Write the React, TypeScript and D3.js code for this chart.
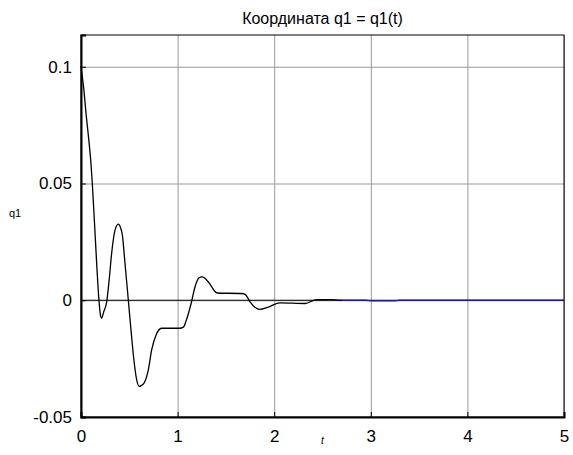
import * as d3 from "d3";
import { useEffect, useRef } from "react";

// black curve q1(t)
const time = [0, 0.03, 0.052, 0.08, 0.103, 0.117, 0.14, 0.162, 0.186, 0.2, 0.214, 0.235, 0.266, 0.29, 0.317, 0.352, 0.386, 0.41, 0.428, 0.455, 0.49, 0.524, 0.548, 0.576, 0.603, 0.625, 0.651, 0.696, 0.731, 0.776, 0.834, 0.87, 1.02, 1.06, 1.09, 1.14, 1.18, 1.22, 1.25, 1.28, 1.317, 1.41, 1.66, 1.7, 1.75, 1.8, 1.85, 1.94, 2.06, 2.32, 2.44, 2.59, 2.7];
const q1 = [0.1, 0.09, 0.08, 0.069, 0.0587, 0.05, 0.033, 0.0159, 0, -0.006, -0.0076, -0.005, -0.0007, 0.008, 0.02, 0.03, 0.0326, 0.031, 0.028, 0.016, 0, -0.0157, -0.0257, -0.034, -0.0369, -0.0365, -0.0356, -0.03, -0.0214, -0.015, -0.012, -0.012, -0.012, -0.0115, -0.0086, -0.0014, 0.0057, 0.0095, 0.01, 0.0095, 0.0079, 0.0031, 0.0029, 0.0025, -0.0007, -0.003, -0.0039, -0.0029, -0.0011, -0.0014, 0.0003, 0.0003, 0];

// blue tail
const timeTail = [2.7, 2.95, 3.0, 3.25, 3.3, 5];
const q1Tail = [0, 0, -0.0003, -0.0003, 0, 0];

const xTicks = [0, 1, 2, 3, 4, 5];
const yTicks = [-0.05, 0, 0.05, 0.1];
const yTickLabels = ["-0.05", "0", "0.05", "0.1"];

const title = "Координата q1 = q1(t)";
const font = "'Liberation Sans', Arial, sans-serif";

export default function App() {
    const ref = useRef<SVGSVGElement>(null);

    useEffect(() => {
        const svg = d3.select(ref.current);
        svg.selectAll("*").remove();

        const width = 573,
            height = 455;
        const left = 81,
            right = 564,
            top = 35,
            bottom = 417;

        const x = d3.scaleLinear().domain([0, 5]).range([left, right]);
        const y = d3.scaleLinear().domain([-0.05, 0.1136]).range([bottom, top]);

        svg.append("rect").attr("width", width).attr("height", height).attr("fill", "#fff");

        // grid
        svg.append("g")
            .attr("transform", `translate(0, ${bottom})`)
            .call(d3.axisBottom(x).tickValues(xTicks).tickSize(-(bottom - top)).tickFormat(() => ""))
            .call((g) => g.select(".domain").remove())
            .call((g) => g.selectAll("line").attr("stroke", "#999"));

        svg.append("g")
            .attr("transform", `translate(${left}, 0)`)
            .call(d3.axisLeft(y).tickValues(yTicks).tickSize(-(right - left)).tickFormat(() => ""))
            .call((g) => g.select(".domain").remove())
            .call((g) => g.selectAll("line").attr("stroke", "#999"));

        // zero line
        svg.append("line")
            .attr("x1", x(0)).attr("x2", x(5))
            .attr("y1", y(0)).attr("y2", y(0))
            .attr("stroke", "#000");

        const line = d3
            .line<number>()
            .x((d, i) => x(time[i]))
            .y((d) => y(d))
            .curve(d3.curveMonotoneX);

        svg.append("path")
            .datum(q1)
            .attr("d", line)
            .attr("fill", "none")
            .attr("stroke", "#000")
            .attr("stroke-width", 1.3);

        const tail = d3
            .line<number>()
            .x((d, i) => x(timeTail[i]))
            .y((d) => y(d));

        svg.append("path")
            .datum(q1Tail)
            .attr("d", tail)
            .attr("fill", "none")
            .attr("stroke", "#1c1c8c")
            .attr("stroke-width", 1.3);

        // box
        svg.append("rect")
            .attr("x", left).attr("y", top)
            .attr("width", right - left).attr("height", bottom - top)
            .attr("fill", "none").attr("stroke", "#000");

        // axes (ticks inside)
        svg.append("g")
            .attr("transform", `translate(0, ${bottom})`)
            .call(d3.axisBottom(x).tickValues(xTicks).tickSize(-5).tickPadding(13).tickFormat(d3.format("d")))
            .call((g) => g.select(".domain").attr("stroke-width", 2))
            .call((g) => g.selectAll("text").attr("font-size", 17).attr("font-family", font).attr("fill", "#000"));

        svg.append("g")
            .attr("transform", `translate(${left}, 0)`)
            .call(d3.axisLeft(y).tickValues(yTicks).tickSize(-5).tickPadding(9).tickFormat((d, i) => yTickLabels[i]))
            .call((g) => g.select(".domain").attr("stroke-width", 2))
            .call((g) => g.selectAll("text").attr("font-size", 17).attr("font-family", font).attr("fill", "#000"));

        svg.append("text")
            .attr("x", (left + right) / 2)
            .attr("y", 24)
            .attr("text-anchor", "middle")
            .attr("font-family", font)
            .attr("font-size", 16)
            .text(title);

        svg.append("text")
            .attr("x", 9)
            .attr("y", 217)
            .attr("font-family", font)
            .attr("font-size", 11)
            .text("q1");

        svg.append("text")
            .attr("x", (left + right) / 2)
            .attr("y", 444)
            .attr("text-anchor", "middle")
            .attr("font-family", font)
            .attr("font-style", "italic")
            .attr("font-size", 10)
            .text("t");
    }, []);

    return (
        <svg ref={ref} width={573} height={455} style={{ position: "absolute", left: 0, top: 0 }}></svg>
    );
}
